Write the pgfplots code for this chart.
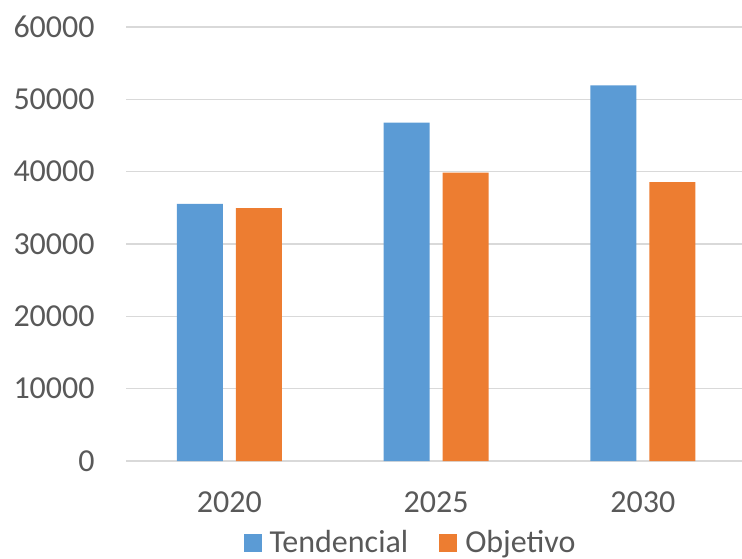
\documentclass[border=0pt]{standalone}
\usepackage{pgfplots}
\pgfplotsset{compat=1.18}
\usepackage{fontspec}
\setmainfont{Carlito}

\definecolor{tendblue}{HTML}{5B9BD5}
\definecolor{objorange}{HTML}{ED7D31}
\definecolor{gridgray}{HTML}{D9D9D9}
\definecolor{textgray}{HTML}{595959}

\begin{document}
\begin{tikzpicture}
\useasboundingbox (0,0) rectangle (371pt,279pt);
\begin{axis}[
  at={(63pt,48.5pt)}, anchor=south west,
  scale only axis,
  width=308pt, height=217pt,
  ybar=6.5pt, bar width=23pt,
  xmin=-0.5, xmax=2.48,
  ymin=0, ymax=60000,
  scaled y ticks=false,
  xtick=data,
  xticklabels={2020,2025,2030},
  ytick={0,10000,20000,30000,40000,50000,60000},
  yticklabels={0,10000,20000,30000,40000,50000,60000},
  ymajorgrids,
  grid style={draw=gridgray, line width=0.75pt},
  axis line style={draw=none},
  major tick length=0pt,
  tick label style={font=\fontsize{16}{19}\selectfont, text=textgray},
  xticklabel style={inner sep=0pt, anchor=north, yshift=-15pt},
  yticklabel style={inner sep=0pt, anchor=east, xshift=-15.5pt},
  legend columns=2,
  legend style={
    at={(0.462,-0.189)}, anchor=center,
    draw=none, fill=none,
    font=\fontsize{16}{19}\selectfont, text=textgray,
    nodes={inner sep=1pt},
    /tikz/every odd column/.append style={column sep=3pt},
    /tikz/every even column/.append style={column sep=14.5pt},
  },
  legend image code/.code={\fill[#1] (0pt,-4.5pt) rectangle (9pt,4.5pt);},
]
\addplot[fill=tendblue, draw=none] coordinates {(0,35550) (1,46780) (2,51920)};
\addplot[fill=objorange, draw=none] coordinates {(0,34950) (1,39870) (2,38540)};
\legend{Tendencial, Objetivo}
\end{axis}
\end{tikzpicture}
\end{document}
